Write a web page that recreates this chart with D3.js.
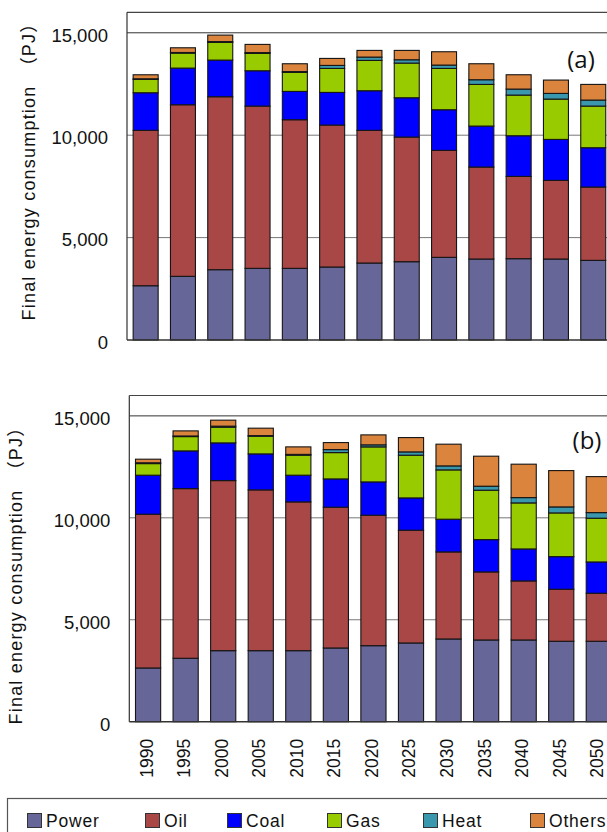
<!DOCTYPE html>
<html>
<head>
<meta charset="utf-8">
<script src="https://cdn.jsdelivr.net/npm/d3@7"></script>
<style>
  html, body { margin: 0; padding: 0; background: #fff; overflow: hidden; }
  svg { display: block; }
</style>
</head>
<body>
<svg id="chart" width="607" height="832"></svg>
<script>
// ---- data ----
const years = ["1990","1995","2000","2005","2010","2015","2020","2025","2030","2035","2040","2045","2050"];
const seriesNames = ["Power","Oil","Coal","Gas","Heat","Others"];
const seriesColors = ["#666699","#A94646","#0000FF","#99CC00","#3A98AE","#DB843E"];
const yTicks = [0, 5000, 10000, 15000];

// scenario (a)
const powerA  = [2650, 3108, 3433, 3498, 3498, 3563, 3758, 3823, 4035, 3954, 3970, 3954, 3889];
const oilA    = [7586, 8378, 8444, 7923, 7257, 6931, 6478, 6085, 5223, 4490, 4018, 3839, 3579];
const coalA   = [1836, 1790, 1790, 1725, 1382, 1594, 1934, 1920, 1985, 2001, 1985, 2001, 1920];
const gasA    = [ 652,  732,  863,  846,  928, 1172, 1481, 1693, 2017, 2034, 1985, 1969, 2034];
const heatA   = [  30,   30,   40,   40,   40,  147,  162,  162,  163,  228,  293,  277,  292];
const othersA = [ 196,  230,  317,  400,  383,  341,  326,  456,  651,  781,  700,  651,  765];

// scenario (b)
const powerB  = [2635, 3111, 3484, 3484, 3484, 3616, 3729, 3862, 4058, 4009, 4009, 3945, 3945];
const oilB    = [7542, 8322, 8342, 7886, 7297, 6905, 6399, 5530, 4269, 3337, 2895, 2552, 2356];
const coalB   = [1914, 1850, 1850, 1766, 1310, 1388, 1634, 1585, 1605, 1585, 1570, 1600, 1535];
const gasB    = [ 569,  702,  770,  867,  981, 1291, 1718, 2095, 2419, 2424, 2258, 2144, 2145];
const heatB   = [  40,   30,   50,   30,   40,  147,  100,  162,  196,  196,  260,  294,  275];
const othersB = [ 176,  250,  294,  364,  368,  344,  488,  702, 1065, 1472, 1639, 1782, 1766];

const svg = d3.select("#chart");
const tickFont = "'Liberation Sans', Arial, sans-serif";

function buildRows(arrs) {
  return years.map((y, i) => {
    const row = { year: y };
    seriesNames.forEach((s, k) => row[s] = arrs[k][i]);
    return row;
  });
}

function drawPanel(cfg) {
  const { arrs, left, right, top, bottom, label, labelX, labelY, titleX, titleY, showX } = cfg;
  const x = d3.scaleBand().domain(years).range([left, right]).paddingInner(0.33).paddingOuter(0.165);
  const y = d3.scaleLinear().domain([0, 16000]).range([bottom, top]);
  const g = svg.append("g");

  // gridlines
  g.selectAll("line.grid").data(yTicks.filter(d => d > 0)).join("line")
    .attr("x1", left).attr("x2", 607)
    .attr("y1", d => y(d)).attr("y2", d => y(d))
    .attr("stroke", d => d === 15000 ? "#333" : "#777").attr("stroke-width", 1);
  // top border
  g.append("line").attr("x1", left).attr("x2", 607).attr("y1", y(16000)).attr("y2", y(16000))
    .attr("stroke", "#444").attr("stroke-width", 1.2);

  // stacked bars
  const rows = buildRows(arrs);
  const stacked = d3.stack().keys(seriesNames)(rows);
  stacked.forEach((layer, k) => {
    g.selectAll(null).data(layer).join("rect")
      .attr("x", d => x(d.data.year))
      .attr("width", x.bandwidth())
      .attr("y", d => y(d[1]))
      .attr("height", d => y(d[0]) - y(d[1]))
      .attr("fill", seriesColors[k])
      .attr("stroke", "#151515")
      .attr("stroke-width", 1.1);
  });

  // axes lines
  g.append("line").attr("x1", left).attr("x2", left).attr("y1", y(16000)).attr("y2", bottom)
    .attr("stroke", "#333").attr("stroke-width", 1.2);
  g.append("line").attr("x1", left).attr("x2", 607).attr("y1", bottom).attr("y2", bottom)
    .attr("stroke", "#333").attr("stroke-width", 1.4);

  // y axis labels
  const yAxis = d3.axisLeft(y).tickValues(yTicks).tickSize(0).tickPadding(0)
    .tickFormat(d3.format(","));
  const ya = g.append("g").attr("transform", `translate(${left - 19},0)`).call(yAxis);
  ya.select(".domain").remove();
  ya.selectAll("text").attr("font-family", tickFont).attr("font-size", 18.5)
    .attr("fill", "#111").attr("dy", "0.45em");

  // y title
  g.append("text")
    .attr("transform", `translate(${titleX},${titleY}) rotate(-90)`)
    .attr("text-anchor", "middle")
    .attr("font-family", tickFont + ", 'Noto Sans CJK JP'")
    .attr("font-size", 18)
    .attr("letter-spacing", "1.2px")
    .attr("fill", "#111")
    .text("Final energy consumption\u3000\uFF08PJ\uFF09");

  // panel label
  g.append("text").attr("x", labelX).attr("y", labelY).attr("text-anchor", "middle")
    .attr("font-family", "'Open Sans', 'Noto Sans', sans-serif").attr("font-size", 24)
    .attr("fill", "#111").text(label);

  if (showX) {
    const xAxis = d3.axisBottom(x).tickSize(0).tickPadding(0);
    const xa = g.append("g").attr("transform", `translate(-1.5,${bottom + 17})`).call(xAxis);
    xa.select(".domain").remove();
    xa.selectAll("text")
      .attr("font-family", tickFont).attr("font-size", 17.5).attr("fill", "#111")
      .attr("transform", "rotate(-90)")
      .attr("text-anchor", "end")
      .attr("x", 0).attr("y", 0).attr("dy", "0.34em");
  }
}

drawPanel({
  arrs: [powerA, oilA, coalA, gasA, heatA, othersA],
  left: 127, right: 127 + 13 * 37.3, top: 12.3, bottom: 340,
  label: "(a)", labelX: 581, labelY: 68, titleX: 35, titleY: 167, showX: false
});
drawPanel({
  arrs: [powerB, oilB, coalB, gasB, heatB, othersB],
  left: 129.3, right: 129.3 + 13 * 37.56, top: 395.5, bottom: 721.7,
  label: "(b)", labelX: 587, labelY: 449, titleX: 22, titleY: 571, showX: true
});

// legend
const lg = svg.append("g");
lg.append("rect").attr("x", 7.5).attr("y", 798.5).attr("width", 620).attr("height", 60)
  .attr("fill", "none").attr("stroke", "#555").attr("stroke-width", 1.2);
const legendX = [27, 145, 227, 327, 423, 530];
seriesNames.forEach((s, k) => {
  lg.append("rect").attr("x", legendX[k] + 0.5).attr("y", 813.5).attr("width", 14).attr("height", 14)
    .attr("fill", seriesColors[k]).attr("stroke", "#333").attr("stroke-width", 1);
  lg.append("text").attr("x", legendX[k] + 19).attr("y", 827)
    .attr("font-family", tickFont).attr("font-size", 17.5).attr("letter-spacing", "0.8px")
    .attr("fill", "#111").text(s);
});
</script>
</body>
</html>
